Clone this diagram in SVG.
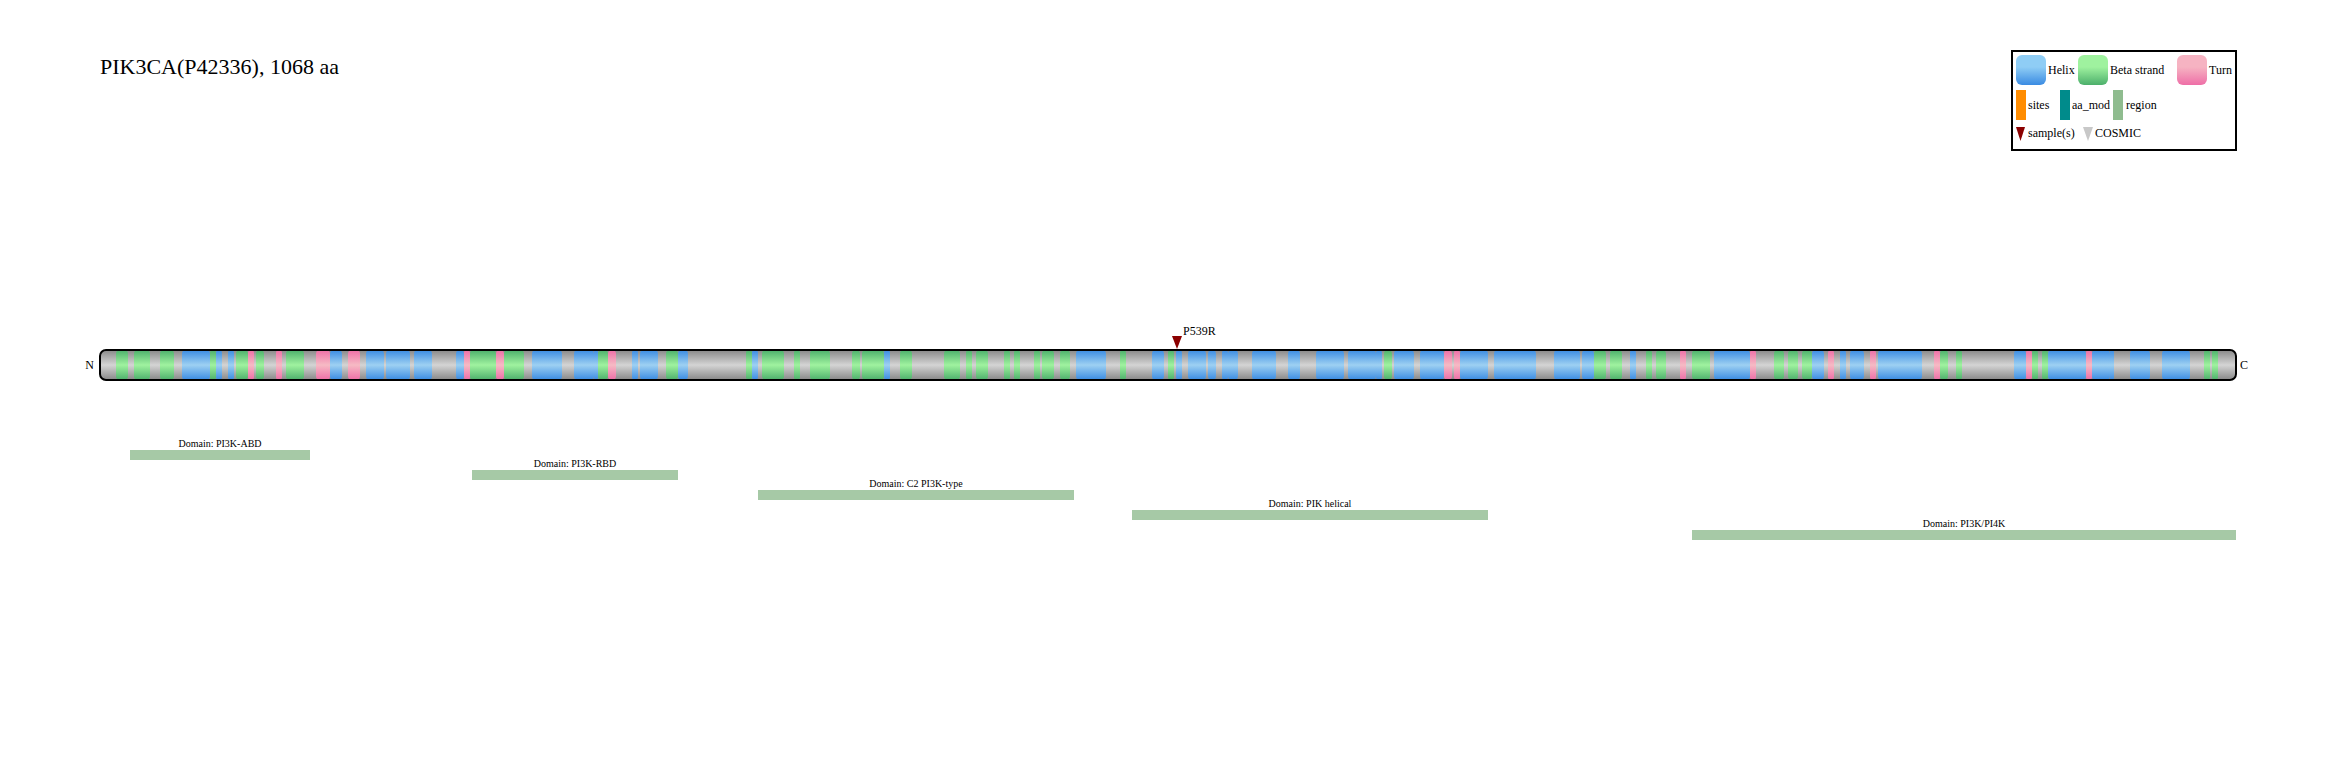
<svg xmlns="http://www.w3.org/2000/svg" width="2336" height="780" viewBox="0 0 2336 780">
<style>
text{font-family:"Liberation Serif","Times New Roman",serif;fill:#000}
.title{font-size:22px}
.end{font-size:12px}
.dl{font-size:10px;text-anchor:middle}
.lg{font-size:12px}
.h{fill:url(#gH)}
.b{fill:url(#gB)}
.t{fill:url(#gT)}
.dom{fill:#a6c9a6}
</style>
<defs>
<linearGradient id="gBar" x1="0" y1="0" x2="0" y2="1"><stop offset="0" stop-color="#888"/><stop offset="0.5" stop-color="#d4d4d4"/><stop offset="1" stop-color="#888"/></linearGradient>
<linearGradient id="gH" x1="0" y1="0" x2="0" y2="1"><stop offset="0" stop-color="#3a8be2"/><stop offset="0.5" stop-color="#9dd0f2"/><stop offset="1" stop-color="#3a8be2"/></linearGradient>
<linearGradient id="gB" x1="0" y1="0" x2="0" y2="1"><stop offset="0" stop-color="#4caf6b"/><stop offset="0.5" stop-color="#9ff29f"/><stop offset="1" stop-color="#4caf6b"/></linearGradient>
<linearGradient id="gT" x1="0" y1="0" x2="0" y2="1"><stop offset="0" stop-color="#ee6ea7"/><stop offset="0.5" stop-color="#f6bac4"/><stop offset="1" stop-color="#ee6ea7"/></linearGradient>
<linearGradient id="lH" x1="0" y1="0" x2="0" y2="1"><stop offset="0" stop-color="#8fcdf5"/><stop offset="0.4" stop-color="#8fcdf5"/><stop offset="1" stop-color="#3a8be2"/></linearGradient>
<linearGradient id="lB" x1="0" y1="0" x2="0" y2="1"><stop offset="0" stop-color="#9ff29f"/><stop offset="0.4" stop-color="#9ff29f"/><stop offset="1" stop-color="#4caf6b"/></linearGradient>
<linearGradient id="lT" x1="0" y1="0" x2="0" y2="1"><stop offset="0" stop-color="#f6b3c2"/><stop offset="0.4" stop-color="#f6b3c2"/><stop offset="1" stop-color="#ee6ea7"/></linearGradient>
</defs>
<rect width="2336" height="780" fill="#fff"/>
<text class="title" x="100" y="74">PIK3CA(P42336), 1068 aa</text>

<g id="protein">
<rect x="100" y="350" width="2136" height="30" rx="6" fill="url(#gBar)"/>
<g id="helix">
<rect class="h" x="182" y="350" width="28" height="30" rx="4"/>
<rect class="h" x="216" y="350" width="6" height="30" rx="3"/>
<rect class="h" x="228" y="350" width="6" height="30" rx="3"/>
<rect class="h" x="330" y="350" width="12" height="30" rx="4"/>
<rect class="h" x="366" y="350" width="18" height="30" rx="4"/>
<rect class="h" x="386" y="350" width="24" height="30" rx="4"/>
<rect class="h" x="414" y="350" width="18" height="30" rx="4"/>
<rect class="h" x="456" y="350" width="8" height="30" rx="4"/>
<rect class="h" x="532" y="350" width="30" height="30" rx="4"/>
<rect class="h" x="574" y="350" width="20" height="30" rx="4"/>
<rect class="h" x="594" y="350" width="4" height="30" rx="2"/>
<rect class="h" x="632" y="350" width="6" height="30" rx="3"/>
<rect class="h" x="640" y="350" width="18" height="30" rx="4"/>
<rect class="h" x="678" y="350" width="10" height="30" rx="4"/>
<rect class="h" x="752" y="350" width="6" height="30" rx="3"/>
<rect class="h" x="884" y="350" width="6" height="30" rx="3"/>
<rect class="h" x="1076" y="350" width="30" height="30" rx="4"/>
<rect class="h" x="1152" y="350" width="12" height="30" rx="4"/>
<rect class="h" x="1176" y="350" width="6" height="30" rx="3"/>
<rect class="h" x="1188" y="350" width="18" height="30" rx="4"/>
<rect class="h" x="1208" y="350" width="8" height="30" rx="4"/>
<rect class="h" x="1222" y="350" width="6" height="30" rx="3"/>
<rect class="h" x="1228" y="350" width="10" height="30" rx="4"/>
<rect class="h" x="1252" y="350" width="24" height="30" rx="4"/>
<rect class="h" x="1288" y="350" width="12" height="30" rx="4"/>
<rect class="h" x="1316" y="350" width="28" height="30" rx="4"/>
<rect class="h" x="1348" y="350" width="28" height="30" rx="4"/>
<rect class="h" x="1376" y="350" width="6" height="30" rx="3"/>
<rect class="h" x="1394" y="350" width="20" height="30" rx="4"/>
<rect class="h" x="1420" y="350" width="24" height="30" rx="4"/>
<rect class="h" x="1460" y="350" width="28" height="30" rx="4"/>
<rect class="h" x="1494" y="350" width="42" height="30" rx="4"/>
<rect class="h" x="1554" y="350" width="26" height="30" rx="4"/>
<rect class="h" x="1582" y="350" width="12" height="30" rx="4"/>
<rect class="h" x="1630" y="350" width="6" height="30" rx="3"/>
<rect class="h" x="1714" y="350" width="36" height="30" rx="4"/>
<rect class="h" x="1812" y="350" width="12" height="30" rx="4"/>
<rect class="h" x="1840" y="350" width="6" height="30" rx="3"/>
<rect class="h" x="1850" y="350" width="14" height="30" rx="4"/>
<rect class="h" x="1878" y="350" width="44" height="30" rx="4"/>
<rect class="h" x="2014" y="350" width="12" height="30" rx="4"/>
<rect class="h" x="2048" y="350" width="38" height="30" rx="4"/>
<rect class="h" x="2092" y="350" width="18" height="30" rx="4"/>
<rect class="h" x="2110" y="350" width="4" height="30" rx="2"/>
<rect class="h" x="2130" y="350" width="20" height="30" rx="4"/>
<rect class="h" x="2162" y="350" width="28" height="30" rx="4"/>
</g>
<g id="beta">
<rect class="b" x="116" y="350" width="12" height="30" rx="4"/>
<rect class="b" x="134" y="350" width="16" height="30" rx="4"/>
<rect class="b" x="160" y="350" width="14" height="30" rx="4"/>
<rect class="b" x="210" y="350" width="6" height="30" rx="3"/>
<rect class="b" x="236" y="350" width="12" height="30" rx="4"/>
<rect class="b" x="256" y="350" width="8" height="30" rx="4"/>
<rect class="b" x="286" y="350" width="18" height="30" rx="4"/>
<rect class="b" x="470" y="350" width="26" height="30" rx="4"/>
<rect class="b" x="504" y="350" width="20" height="30" rx="4"/>
<rect class="b" x="598" y="350" width="10" height="30" rx="4"/>
<rect class="b" x="666" y="350" width="12" height="30" rx="4"/>
<rect class="b" x="746" y="350" width="6" height="30" rx="3"/>
<rect class="b" x="762" y="350" width="22" height="30" rx="4"/>
<rect class="b" x="794" y="350" width="6" height="30" rx="3"/>
<rect class="b" x="810" y="350" width="20" height="30" rx="4"/>
<rect class="b" x="852" y="350" width="8" height="30" rx="4"/>
<rect class="b" x="862" y="350" width="22" height="30" rx="4"/>
<rect class="b" x="900" y="350" width="12" height="30" rx="4"/>
<rect class="b" x="944" y="350" width="16" height="30" rx="4"/>
<rect class="b" x="966" y="350" width="6" height="30" rx="3"/>
<rect class="b" x="976" y="350" width="12" height="30" rx="4"/>
<rect class="b" x="1004" y="350" width="6" height="30" rx="3"/>
<rect class="b" x="1014" y="350" width="6" height="30" rx="3"/>
<rect class="b" x="1034" y="350" width="6" height="30" rx="3"/>
<rect class="b" x="1042" y="350" width="12" height="30" rx="4"/>
<rect class="b" x="1060" y="350" width="10" height="30" rx="4"/>
<rect class="b" x="1120" y="350" width="6" height="30" rx="3"/>
<rect class="b" x="1168" y="350" width="6" height="30" rx="3"/>
<rect class="b" x="1384" y="350" width="8" height="30" rx="4"/>
<rect class="b" x="1594" y="350" width="12" height="30" rx="4"/>
<rect class="b" x="1610" y="350" width="12" height="30" rx="4"/>
<rect class="b" x="1646" y="350" width="6" height="30" rx="3"/>
<rect class="b" x="1656" y="350" width="10" height="30" rx="4"/>
<rect class="b" x="1692" y="350" width="18" height="30" rx="4"/>
<rect class="b" x="1774" y="350" width="10" height="30" rx="4"/>
<rect class="b" x="1788" y="350" width="10" height="30" rx="4"/>
<rect class="b" x="1802" y="350" width="10" height="30" rx="4"/>
<rect class="b" x="1940" y="350" width="8" height="30" rx="4"/>
<rect class="b" x="1956" y="350" width="6" height="30" rx="3"/>
<rect class="b" x="2032" y="350" width="6" height="30" rx="3"/>
<rect class="b" x="2042" y="350" width="6" height="30" rx="3"/>
<rect class="b" x="2204" y="350" width="6" height="30" rx="3"/>
<rect class="b" x="2212" y="350" width="6" height="30" rx="3"/>
</g>
<g id="turn">
<rect class="t" x="248" y="350" width="6" height="30" rx="3"/>
<rect class="t" x="276" y="350" width="6" height="30" rx="3"/>
<rect class="t" x="316" y="350" width="14" height="30" rx="4"/>
<rect class="t" x="348" y="350" width="12" height="30" rx="4"/>
<rect class="t" x="464" y="350" width="6" height="30" rx="3"/>
<rect class="t" x="496" y="350" width="8" height="30" rx="4"/>
<rect class="t" x="608" y="350" width="8" height="30" rx="4"/>
<rect class="t" x="1444" y="350" width="8" height="30" rx="4"/>
<rect class="t" x="1454" y="350" width="6" height="30" rx="3"/>
<rect class="t" x="1680" y="350" width="6" height="30" rx="3"/>
<rect class="t" x="1750" y="350" width="6" height="30" rx="3"/>
<rect class="t" x="1828" y="350" width="6" height="30" rx="3"/>
<rect class="t" x="1870" y="350" width="6" height="30" rx="3"/>
<rect class="t" x="1934" y="350" width="6" height="30" rx="3"/>
<rect class="t" x="2026" y="350" width="6" height="30" rx="3"/>
<rect class="t" x="2086" y="350" width="6" height="30" rx="3"/>
</g>
<rect x="100" y="350" width="2136" height="30" rx="6" fill="none" stroke="#000" stroke-width="2"/>
<text class="end" x="94" y="369" text-anchor="end">N</text>
<text class="end" x="2240" y="369">C</text>
</g>

<g id="mutation-P539R">
<polygon points="1172,336 1182,336 1177,349" fill="#8b0000"/>
<text class="end" x="1183" y="335">P539R</text>
</g>

<g id="domain-abd"><rect class="dom" x="130" y="450" width="180" height="10"/><text class="dl" x="220" y="447">Domain: PI3K-ABD</text></g>
<g id="domain-rbd"><rect class="dom" x="472" y="470" width="206" height="10"/><text class="dl" x="575" y="467">Domain: PI3K-RBD</text></g>
<g id="domain-c2"><rect class="dom" x="758" y="490" width="316" height="10"/><text class="dl" x="916" y="487">Domain: C2 PI3K-type</text></g>
<g id="domain-helical"><rect class="dom" x="1132" y="510" width="356" height="10"/><text class="dl" x="1310" y="507">Domain: PIK helical</text></g>
<g id="domain-kinase"><rect class="dom" x="1692" y="530" width="544" height="10"/><text class="dl" x="1964" y="527">Domain: PI3K/PI4K</text></g>

<g id="connectors"></g>

<g id="legend">
<rect x="2012" y="51" width="224" height="99" fill="#fff" stroke="#000" stroke-width="2"/>
<rect x="2016" y="55" width="30" height="30" rx="6" fill="url(#lH)"/>
<text class="lg" x="2048" y="74">Helix</text>
<rect x="2078" y="55" width="30" height="30" rx="6" fill="url(#lB)"/>
<text class="lg" x="2110" y="74">Beta strand</text>
<rect x="2177" y="55" width="30" height="30" rx="6" fill="url(#lT)"/>
<text class="lg" x="2209" y="74">Turn</text>
<rect x="2016" y="90" width="10" height="30" fill="#ff8c00"/>
<text class="lg" x="2028" y="109">sites</text>
<rect x="2060" y="90" width="10" height="30" fill="#008b8b"/>
<text class="lg" x="2072" y="109">aa_mod</text>
<rect x="2113" y="90" width="10" height="30" fill="#8fbc8f"/>
<text class="lg" x="2126" y="109">region</text>
<polygon points="2016,127 2025,127 2020.5,141" fill="#8b0000"/>
<text class="lg" x="2028" y="137">sample(s)</text>
<polygon points="2083,127 2093,127 2088,141" fill="#c8c8c8"/>
<text class="lg" x="2095" y="137">COSMIC</text>
</g>
</svg>
